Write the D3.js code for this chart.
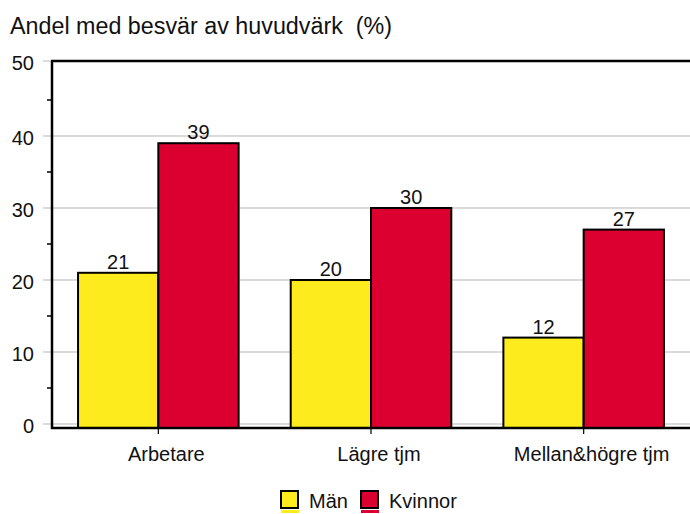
<!DOCTYPE html>
<html><head><meta charset="utf-8">
<script src="https://cdn.jsdelivr.net/npm/d3@7"></script>
<style>body{margin:0;background:#fff}svg{display:block;font-family:"Liberation Sans",Arial,sans-serif}</style>
</head><body><svg id="c" width="690" height="514"></svg>
<script>
const categories = ["Arbetare", "Lägre tjm", "Mellan&högre tjm"];
const seriesNames = ["Män", "Kvinnor"];
const man = [21, 20, 12];
const kvinnor = [39, 30, 27];
const yTicks = [0, 10, 20, 30, 40, 50];
const yMinor = [5, 15, 25, 35, 45];
const colors = ["#FDEB1E", "#DC0030"];
const title = "Andel med besvär av huvudvärk\u00a0 (%)";

const svg = d3.select("#c");
const plotLeft = 52, plotRight = 690, axisY = 428, plotTop = 61;
const y = d3.scaleLinear().domain([0, 50]).range([424, 64]);
const x0 = d3.scaleBand().domain(categories).range([plotLeft, plotRight]).paddingInner(0.245).paddingOuter(0.1225);
const x1 = d3.scaleBand().domain(seriesNames).range([0, x0.bandwidth()]);

svg.append("text").attr("x", 10).attr("y", 34).attr("font-size", 23.3).attr("fill", "#111").text(title);

// gridlines
svg.append("g").selectAll("line").data(yTicks).join("line")
  .attr("x1", 43).attr("x2", plotRight)
  .attr("y1", d => d === 50 ? plotTop : y(d)).attr("y2", d => d === 50 ? plotTop : y(d))
  .attr("stroke", "#cfcfcf").attr("stroke-width", 1.5);

// y labels
svg.append("g").selectAll("text").data(yTicks).join("text")
  .attr("x", 34).attr("y", d => (d === 50 ? plotTop : y(d)) + 9)
  .attr("text-anchor", "end").attr("font-size", 20).attr("fill", "#111").text(d => d);

// minor ticks
svg.append("g").selectAll("line").data(yMinor).join("line")
  .attr("x1", 47).attr("x2", plotLeft).attr("y1", d => y(d)).attr("y2", d => y(d))
  .attr("stroke", "#000").attr("stroke-width", 1.5);

// bars
const data = categories.map((c, i) => ({c, vals: [man[i], kvinnor[i]]}));
const g = svg.append("g").selectAll("g").data(data).join("g")
  .attr("transform", d => `translate(${x0(d.c)},0)`);
g.selectAll("rect").data(d => d.vals.map((v, j) => ({v, s: seriesNames[j], j}))).join("rect")
  .attr("x", d => x1(d.s)).attr("width", x1.bandwidth())
  .attr("y", d => y(d.v)).attr("height", d => axisY - y(d.v))
  .attr("fill", d => colors[d.j]).attr("stroke", "#000").attr("stroke-width", 2);
g.selectAll("text").data(d => d.vals.map((v, j) => ({v, s: seriesNames[j]}))).join("text")
  .attr("x", d => x1(d.s) + x1.bandwidth() / 2).attr("y", d => y(d.v) - 4)
  .attr("text-anchor", "middle").attr("font-size", 20).attr("fill", "#111").text(d => d.v);

// axes frame
svg.append("line").attr("x1", plotLeft).attr("x2", plotLeft).attr("y1", plotTop).attr("y2", axisY + 1)
  .attr("stroke", "#000").attr("stroke-width", 2.5);
svg.append("line").attr("x1", plotLeft - 1).attr("x2", plotRight).attr("y1", plotTop).attr("y2", plotTop)
  .attr("stroke", "#000").attr("stroke-width", 2.5);
svg.append("line").attr("x1", plotLeft - 1).attr("x2", plotRight).attr("y1", axisY).attr("y2", axisY)
  .attr("stroke", "#000").attr("stroke-width", 2.5);

// category ticks + labels
svg.append("g").selectAll("line").data(categories).join("line")
  .attr("x1", d => x0(d) + x0.bandwidth() / 2).attr("x2", d => x0(d) + x0.bandwidth() / 2)
  .attr("y1", axisY).attr("y2", axisY + 6).attr("stroke", "#000").attr("stroke-width", 1.2);
svg.append("g").selectAll("text").data(categories).join("text")
  .attr("x", d => x0(d) + x0.bandwidth() / 2 + 8).attr("y", 461)
  .attr("text-anchor", "middle").attr("font-size", 20).attr("fill", "#111").text(d => d);

// legend
const legX = [281, 361];
const lg = svg.append("g").selectAll("g").data(seriesNames).join("g")
  .attr("transform", (d, i) => `translate(${legX[i]},491)`);
lg.append("rect").attr("x", 0).attr("y", 19).attr("width", 18).attr("height", 3)
  .attr("fill", (d, i) => colors[i]);
lg.append("rect").attr("width", 17).attr("height", 17)
  .attr("fill", (d, i) => colors[i]).attr("stroke", "#000").attr("stroke-width", 2);
lg.append("text").attr("x", 28).attr("y", 17).attr("font-size", 20).attr("fill", "#111").text(d => d);
</script></body></html>
